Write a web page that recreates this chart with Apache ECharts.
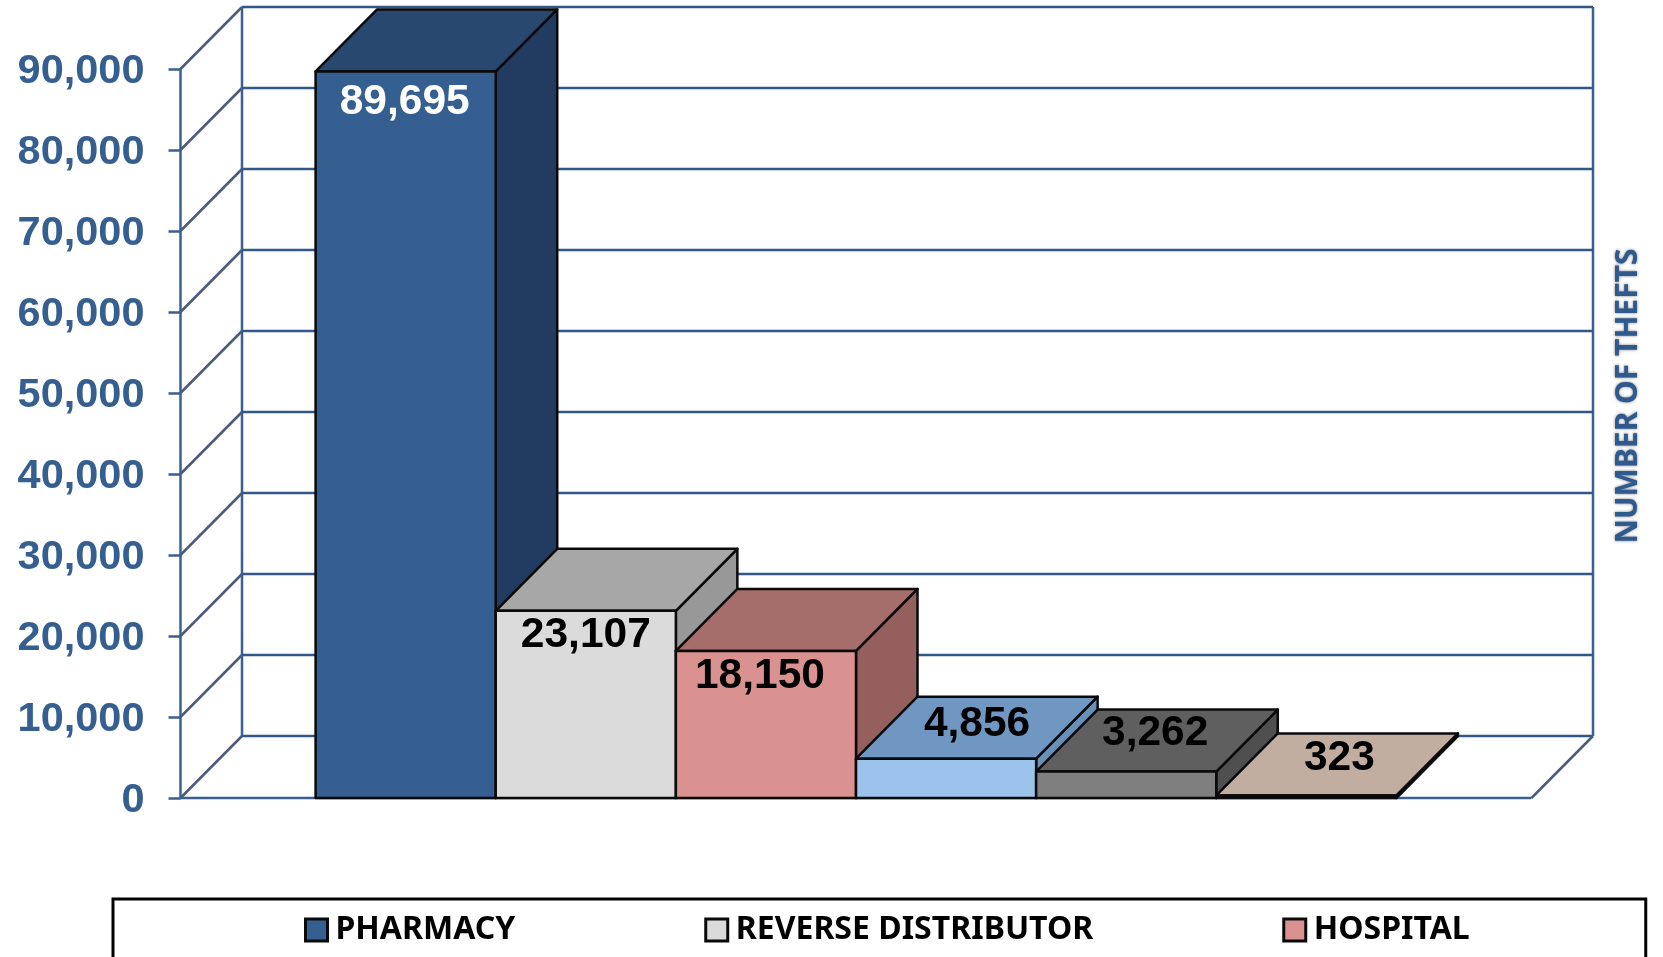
<!DOCTYPE html>
<html>
<head>
<meta charset="utf-8">
<style>html,body{margin:0;padding:0;background:#fff;overflow:hidden}#chart{width:1663px;height:957px}</style>
<script src="https://cdn.jsdelivr.net/npm/echarts@6/dist/echarts.min.js"></script>
</head>
<body>
<div id="chart"></div>
<script>
const seriesNames = ['PHARMACY', 'REVERSE DISTRIBUTOR', 'HOSPITAL', 'SERIES 4', 'SERIES 5', 'SERIES 6'];
const legendNames = ['PHARMACY', 'REVERSE DISTRIBUTOR', 'HOSPITAL'];
const thefts = [89695, 23107, 18150, 4856, 3262, 323];
const tickValues = [0, 10000, 20000, 30000, 40000, 50000, 60000, 70000, 80000, 90000];
const axisTitle = 'NUMBER OF THEFTS';

const frontColors = ['#355f91', '#dbdbdb', '#da9290', '#9cc3ec', '#7f7f7f', '#c9b3a4'];
const topColors = ['#28486f', '#a7a7a7', '#a56e6b', '#7097c2', '#5f5f5f', '#c2aea0'];
const sideColors = ['#213c60', '#979897', '#945f5c', '#6a90ba', '#4f4f4f', '#6e6259'];
const labelColors = ['#ffffff', '#000000', '#000000', '#000000', '#000000', '#000000'];
const labelShifts = [[-1, 31], [0, 24], [-6, 25], [31, -34], [29, -38], [33, -37]];

const DEPTH_X = 61.5, DEPTH_Y = -62;
const X_MIN = -0.75, X_MAX = 6.75;
const BLUE = '#3a5f92', WALL_DIAG = '#4b5b7c', BACK_LINE = '#315889', INK = '#0a0a0a';
const num = v => v.toLocaleString('en-US');

function line(x1, y1, x2, y2, stroke, w) {
  return { type: 'line', shape: { x1, y1, x2, y2 }, style: { stroke, lineWidth: w || 2.5, fill: null }, silent: true };
}
function poly(points, fill) {
  return { type: 'polygon', shape: { points },
    style: { fill, stroke: INK, lineWidth: 2.5, lineJoin: 'round' }, silent: true };
}

function renderWall(params, api) {
  const v = api.value(0);
  const L = api.coord([X_MIN, v]), R = api.coord([X_MAX, v]);
  const kids = [
    line(L[0] + DEPTH_X, L[1] + DEPTH_Y, R[0] + DEPTH_X, R[1] + DEPTH_Y, BACK_LINE),
    line(L[0], L[1], L[0] + DEPTH_X, L[1] + DEPTH_Y, WALL_DIAG)
  ];
  if (v === 0) {
    const T = api.coord([X_MIN, tickValues[tickValues.length - 1]]);
    const TR = api.coord([X_MAX, tickValues[tickValues.length - 1]]);
    kids.push(line(L[0], L[1], R[0], R[1], BLUE));
    kids.push(line(R[0], R[1], R[0] + DEPTH_X, R[1] + DEPTH_Y, WALL_DIAG));
    kids.push(line(L[0] + DEPTH_X, L[1] + DEPTH_Y, T[0] + DEPTH_X, T[1] + DEPTH_Y, BLUE));
    kids.push(line(R[0] + DEPTH_X, R[1] + DEPTH_Y, TR[0] + DEPTH_X, TR[1] + DEPTH_Y, BLUE));
  }
  return { type: 'group', children: kids };
}

function renderBar(params, api) {
  const i = api.value(0), v = api.value(1);
  const bl = api.coord([i, 0]), br = api.coord([i + 1, 0]);
  const tl = api.coord([i, v]), tr = api.coord([i + 1, v]);
  const dx = DEPTH_X, dy = DEPTH_Y;
  const shift = labelShifts[i];
  return {
    type: 'group',
    children: [
      poly([[tr[0], tr[1]], [tr[0] + dx, tr[1] + dy], [br[0] + dx, br[1] + dy], [br[0], br[1]]], sideColors[i]),
      poly([[tl[0], tl[1]], [tl[0] + dx, tl[1] + dy], [tr[0] + dx, tr[1] + dy], [tr[0], tr[1]]], topColors[i]),
      poly([[bl[0], bl[1]], [tl[0], tl[1]], [tr[0], tr[1]], [br[0], br[1]]], frontColors[i]),
      { type: 'text', silent: true, z2: 10,
        style: { x: (tl[0] + tr[0]) / 2 + shift[0], y: tl[1] + shift[1], text: num(v),
          align: 'center', verticalAlign: 'middle', fill: labelColors[i],
          font: 'bold 42.5px "Liberation Sans", Arial, sans-serif' } }
    ]
  };
}

const barSeries = seriesNames.map((name, i) => ({
  type: 'custom', name, renderItem: renderBar, coordinateSystem: 'cartesian2d',
  itemStyle: { color: frontColors[i] }, encode: { x: 0, y: 1 },
  data: [[i, thefts[i]]], silent: true, z: 3 + i
}));

const chart = echarts.init(document.getElementById('chart'), null, { renderer: 'canvas' });
chart.setOption({
  animation: false,
  backgroundColor: '#ffffff',
  grid: { left: 180.5, top: 69, width: 1351, height: 729, containLabel: false },
  xAxis: { type: 'value', min: X_MIN, max: X_MAX, show: false },
  yAxis: {
    type: 'value', min: 0, max: 90000, interval: 10000,
    axisLine: { show: true, onZero: false, lineStyle: { color: BLUE, width: 2.5 } },
    axisTick: { show: true, length: 12, lineStyle: { color: BLUE, width: 2.5 } },
    splitLine: { show: false },
    axisLabel: { margin: 36, formatter: v => '{t|' + num(v) + '}',
      rich: { t: { color: '#365f91', fontFamily: '"Liberation Sans", Arial, sans-serif',
        fontWeight: 'bold', fontSize: 41.5, lineHeight: 48, padding: [6, 0, 0, 0] } } }
  },
  legend: {
    left: 113, top: 899, orient: 'horizontal', width: 1300,
    padding: [15, 176, 80, 191], itemGap: 189, itemWidth: 22, itemHeight: 22,
    borderColor: '#000000', borderWidth: 3, backgroundColor: '#ffffff',
    selectedMode: false,
    textStyle: { color: '#000000', fontFamily: '"Noto Sans", sans-serif', fontWeight: 'bold', fontSize: 32, padding: [0, 0, 0, 3] },
    data: legendNames.map(n => {
      const i = seriesNames.indexOf(n);
      return { name: n, icon: 'rect', itemStyle: { color: frontColors[i], borderColor: INK, borderWidth: 3 } };
    })
  },
  graphic: [{
    type: 'text', x: 1628, y: 396, rotation: Math.PI / 2, silent: true,
    style: { text: axisTitle, align: 'center', verticalAlign: 'middle', fill: '#2f5a8e',
      font: 'bold 30px "Noto Sans", sans-serif', textShadowColor: 'rgba(20,30,50,0.6)', textShadowBlur: 3 }
  }],
  series: [
    { type: 'custom', name: 'wall', renderItem: renderWall, coordinateSystem: 'cartesian2d',
      encode: { y: 0 }, data: tickValues.map(v => [v]), silent: true, z: 1 }
  ].concat(barSeries)
});
</script>
</body>
</html>
